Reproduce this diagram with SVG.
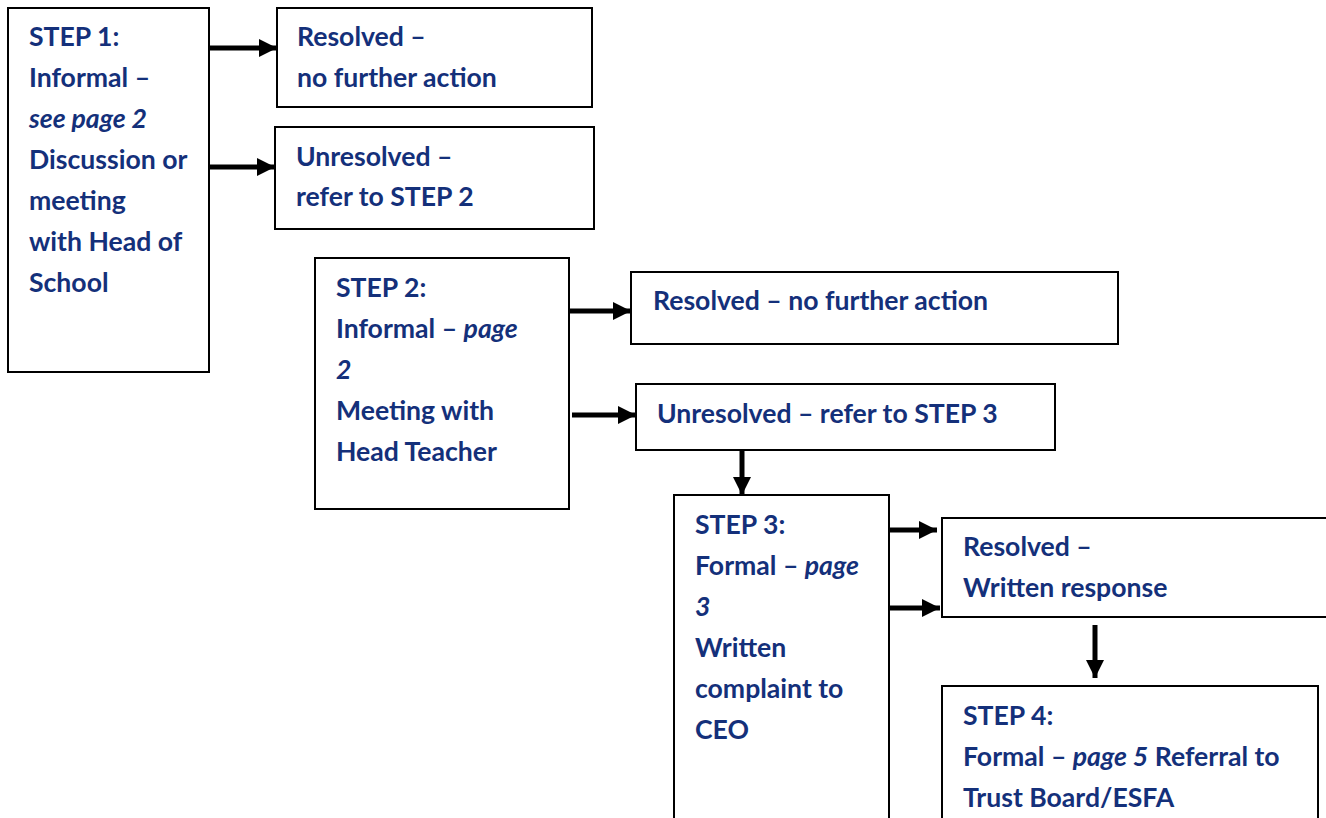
<svg xmlns="http://www.w3.org/2000/svg" width="1326" height="818" viewBox="0 0 1326 818">
<style>
.box{fill:#fff;stroke:#000;stroke-width:2}
.t{font-family:Lato,"Open Sans",sans-serif;font-weight:bold;font-size:26.6px;fill:#14307a}
.i{font-style:italic}
.c{stroke:#000;stroke-width:5;fill:none}
</style>
<defs>
<marker id="ah" markerUnits="userSpaceOnUse" markerWidth="20" markerHeight="18" refX="18" refY="9" orient="auto">
<path d="M0,0 L18,9 L0,18 Z" fill="#000"/>
</marker>
</defs>
<rect width="1326" height="818" fill="#fff"/>
<g id="connectors">
<line class="c" x1="209" y1="48" x2="277" y2="48" marker-end="url(#ah)"/>
<line class="c" x1="209" y1="167" x2="275" y2="167" marker-end="url(#ah)"/>
<line class="c" x1="569" y1="311" x2="631" y2="311" marker-end="url(#ah)"/>
<line class="c" x1="572" y1="415" x2="636" y2="415" marker-end="url(#ah)"/>
<line class="c" x1="742" y1="450" x2="742" y2="495" marker-end="url(#ah)"/>
<line class="c" x1="889" y1="530" x2="937" y2="530" marker-end="url(#ah)"/>
<line class="c" x1="889" y1="608" x2="940" y2="608" marker-end="url(#ah)"/>
<line class="c" x1="1095" y1="625" x2="1095" y2="678" marker-end="url(#ah)"/>
</g>
<g id="step1">
<rect class="box" x="8" y="8" width="201" height="364"/>
<text class="t" x="29" y="46">STEP 1:</text>
<text class="t" x="29" y="87">Informal –</text>
<text class="t i" x="29" y="128">see page 2</text>
<text class="t" x="29" y="169">Discussion or</text>
<text class="t" x="29" y="210">meeting</text>
<text class="t" x="29" y="251">with Head of</text>
<text class="t" x="29" y="292">School</text>
</g>
<g id="resolved1">
<rect class="box" x="277" y="8" width="315" height="99"/>
<text class="t" x="297" y="46">Resolved –</text>
<text class="t" x="297" y="87">no further action</text>
</g>
<g id="unresolved1">
<rect class="box" x="275" y="127" width="319" height="102"/>
<text class="t" x="296" y="166">Unresolved –</text>
<text class="t" x="296" y="206">refer to STEP 2</text>
</g>
<g id="step2">
<rect class="box" x="315" y="258" width="254" height="251"/>
<text class="t" x="336" y="297">STEP 2:</text>
<text class="t" x="336" y="338">Informal – <tspan class="i">page</tspan></text>
<text class="t i" x="336" y="379">2</text>
<text class="t" x="336" y="420">Meeting with</text>
<text class="t" x="336" y="461">Head Teacher</text>
</g>
<g id="resolved2">
<rect class="box" x="631" y="272" width="487" height="72"/>
<text class="t" x="653" y="310">Resolved – no further action</text>
</g>
<g id="unresolved2">
<rect class="box" x="636" y="384" width="419" height="66"/>
<text class="t" x="657" y="423">Unresolved – refer to STEP 3</text>
</g>
<g id="step3">
<rect class="box" x="674" y="495" width="215" height="340"/>
<text class="t" x="695" y="534">STEP 3:</text>
<text class="t" x="695" y="575">Formal – <tspan class="i">page</tspan></text>
<text class="t i" x="695" y="616">3</text>
<text class="t" x="695" y="657">Written</text>
<text class="t" x="695" y="698">complaint to</text>
<text class="t" x="695" y="739">CEO</text>
</g>
<g id="resolved3">
<rect class="box" x="942" y="518" width="390" height="99"/>
<text class="t" x="963" y="556">Resolved –</text>
<text class="t" x="963" y="597">Written response</text>
</g>
<g id="step4">
<rect class="box" x="942" y="686" width="376" height="140"/>
<text class="t" x="963" y="725">STEP 4:</text>
<text class="t" x="963" y="766">Formal – <tspan class="i">page 5</tspan> Referral to</text>
<text class="t" x="963" y="807">Trust Board/ESFA</text>
</g>
</svg>
